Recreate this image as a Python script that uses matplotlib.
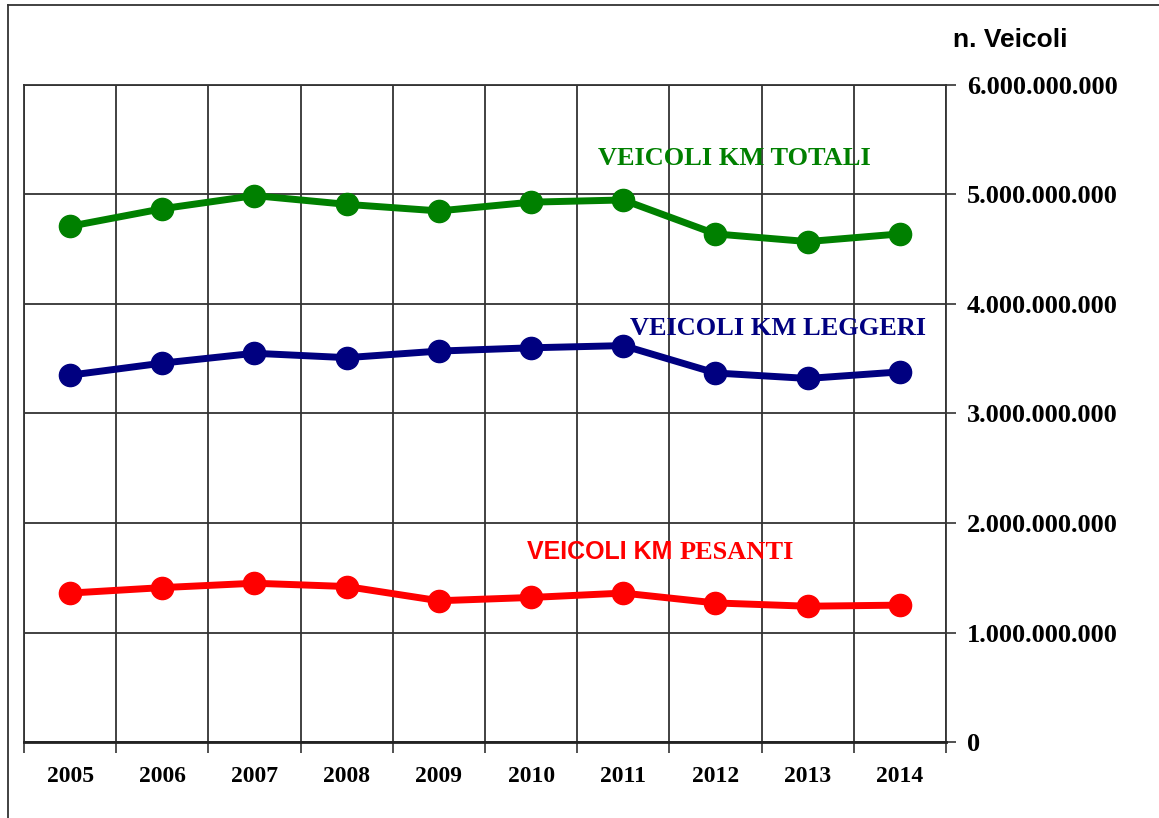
import numpy as np
import matplotlib
matplotlib.use("Agg")
import matplotlib.pyplot as plt
from matplotlib.ticker import FixedLocator, FuncFormatter
from matplotlib.lines import Line2D

years = ["2005", "2006", "2007", "2008", "2009", "2010", "2011", "2012", "2013", "2014"]
totali = [4.71e9, 4.87e9, 4.99e9, 4.91e9, 4.85e9, 4.93e9, 4.95e9, 4.64e9, 4.57e9, 4.64e9]
leggeri = [3.35e9, 3.46e9, 3.55e9, 3.51e9, 3.57e9, 3.60e9, 3.62e9, 3.37e9, 3.32e9, 3.38e9]
pesanti = [1.36e9, 1.41e9, 1.45e9, 1.42e9, 1.29e9, 1.32e9, 1.36e9, 1.27e9, 1.24e9, 1.25e9]
y_ticks = [0, 1e9, 2e9, 3e9, 4e9, 5e9, 6e9]

serif = "Liberation Serif"
sans = "Liberation Sans"

fig = plt.figure(figsize=(11.59, 8.18), dpi=100)
ax = fig.add_axes([0.0207, 0.0929, 0.7955, 0.8032])

x = np.arange(len(years))
for vals, col in [(totali, "#008000"), (leggeri, "#000080"), (pesanti, "#ff0000")]:
    ax.plot(x, vals, color=col, lw=5, marker="o", ms=16, zorder=3,
            solid_joinstyle="round")

ax.set_xlim(-0.5, len(years) - 0.5)
ax.set_ylim(0, 6e9)

# category boundaries as major ticks (grid), labels on minor ticks
ax.xaxis.set_major_locator(FixedLocator(np.arange(-0.5, len(years), 1.0)))
ax.xaxis.set_major_formatter(FuncFormatter(lambda v, p: ""))
ax.set_xticks(x, minor=True)
ax.set_xticklabels(years, minor=True, fontfamily=serif, fontweight="bold", fontsize=17)
ax.tick_params(axis="x", which="major", direction="out", length=8, width=1.2, color="#333333")
ax.tick_params(axis="x", which="minor", length=0, pad=17)

ax.yaxis.tick_right()
ax.set_yticks(y_ticks)
ax.yaxis.set_major_formatter(FuncFormatter(lambda v, p: "{:,}".format(int(v)).replace(",", ".")))
for lab in ax.get_yticklabels():
    lab.set_fontfamily(serif)
    lab.set_fontweight("bold")
    lab.set_fontsize(19)
ax.tick_params(axis="y", direction="out", length=7, width=1.2, color="#333333", pad=8)

ax.grid(True, which="major", color="#333333", lw=1.3)
ax.set_axisbelow(True)
for s in ["left", "right", "top"]:
    ax.spines[s].set_color("#333333")
    ax.spines[s].set_linewidth(1.3)
ax.spines["bottom"].set_color("#222222")
ax.spines["bottom"].set_linewidth(2)

ax.text(7.21, 5.33e9, "VEICOLI KM TOTALI", color="#008000", fontfamily=serif,
        fontweight="bold", fontsize=19, ha="center", va="center")
ax.text(7.68, 3.78e9, "VEICOLI KM LEGGERI", color="#000080", fontfamily=serif,
        fontweight="bold", fontsize=19, ha="center", va="center")
t1 = ax.text(4.955, 1.735e9, "VEICOLI KM ", color="#ff0000", fontfamily=sans,
             fontweight="bold", fontsize=18, ha="left", va="center")
ax.annotate("PESANTI", xycoords=t1, xy=(1, 0.5), va="center", ha="left",
            color="#ff0000", fontfamily=serif, fontweight="bold", fontsize=19)

fig.text(0.8715, 0.951, "n. Veicoli", fontfamily=sans, fontweight="bold",
         fontsize=19, ha="center", va="center")

# outer frame (top and left)
fig.add_artist(Line2D([0.007, 1.0], [0.994, 0.994], color="#333333", lw=1.3))
fig.add_artist(Line2D([0.007, 0.007], [0.0, 0.994], color="#333333", lw=1.3))

fig.savefig("out.png", dpi=100)
